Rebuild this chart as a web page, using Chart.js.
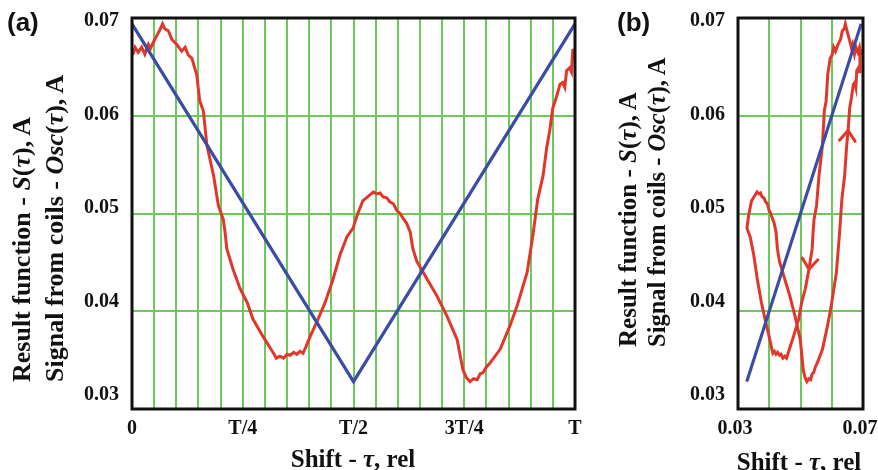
<!DOCTYPE html>
<html>
<head>
<meta charset="utf-8">
<script src="https://cdn.jsdelivr.net/npm/chart.js@4.4.1/dist/chart.umd.min.js"></script>
<style>
  html, body { margin: 0; padding: 0; background: #fff; }
  #wrap { position: relative; width: 878px; height: 470px; overflow: hidden; }
  .panel { position: absolute; top: 0; height: 470px; }
  .txt { position: absolute; white-space: nowrap; color: #111; font-family: 'Liberation Serif', 'Times New Roman', serif; font-weight: bold; }
  .tag { font-family: 'Liberation Sans', Arial, sans-serif; font-size: 26px; line-height: 1; }
  .ytitle { transform-origin: 0 0; transform: rotate(-90deg); line-height: 26px; }
  .xtitle { line-height: 25px; transform: translateX(-50%); }
</style>
</head>
<body>
<div id="wrap">
  <div class="panel" style="left:0;width:590px;"><canvas id="chartA"></canvas></div>
  <div class="panel" style="left:590px;width:288px;"><canvas id="chartB"></canvas></div>

  <div class="txt tag" style="left:7px;top:9px;">(a)</div>
  <div class="txt tag" style="left:617px;top:9px;">(b)</div>

  <div class="txt ytitle" style="left:9px;top:382px;font-size:26px;">Result function - <i>S</i>(<i>τ</i>), A</div>
  <div class="txt ytitle" style="left:42px;top:382px;font-size:26px;">Signal from coils - <i>Osc</i>(<i>τ</i>), A</div>
  <div class="txt ytitle" style="left:615px;top:347px;font-size:25px;">Result function - <i>S</i>(<i>τ</i>), A</div>
  <div class="txt ytitle" style="left:644px;top:347px;font-size:24.5px;">Signal from coils - <i>Osc</i>(<i>τ</i>), A</div>

  <div class="txt xtitle" style="left:353px;top:446px;font-size:25px;">Shift - <i>τ</i>, rel</div>
  <div class="txt xtitle" style="left:799px;top:449px;font-size:25px;">Shift - <i>τ</i>, rel</div>
</div>

<script>
// shift τ as a fraction of the period T, and the coil signal Osc(τ), A
const shift = [
  0.000, 0.003, 0.007, 0.014, 0.022, 0.029, 0.037, 0.042, 0.048, 0.056,
  0.063, 0.069, 0.074, 0.082, 0.090, 0.101, 0.112, 0.120, 0.127, 0.135,
  0.146, 0.153, 0.161, 0.169, 0.184, 0.195, 0.206, 0.210, 0.214, 0.228,
  0.244, 0.260, 0.273, 0.296, 0.318, 0.326, 0.334, 0.342, 0.350, 0.357,
  0.365, 0.372, 0.379, 0.386, 0.392, 0.402, 0.420, 0.436, 0.454, 0.469,
  0.485, 0.499, 0.508, 0.521, 0.537, 0.545, 0.553, 0.560, 0.567, 0.575,
  0.582, 0.590, 0.598, 0.605, 0.612, 0.620, 0.628, 0.634, 0.643, 0.666,
  0.688, 0.711, 0.734, 0.747, 0.755, 0.763, 0.771, 0.779, 0.786, 0.792,
  0.800, 0.808, 0.831, 0.853, 0.869, 0.892, 0.905, 0.916, 0.928, 0.936,
  0.943, 0.950, 0.958, 0.966, 0.972, 0.977, 0.981, 0.988, 0.992, 0.995,
  1.000
];
const oscSignal = [
  0.0662, 0.0664, 0.0670, 0.0665, 0.0670, 0.0663, 0.0673, 0.0669, 0.0675, 0.0682,
  0.0688, 0.0694, 0.0689, 0.0687, 0.0678, 0.0673, 0.0666, 0.0670, 0.0662, 0.0659,
  0.0642, 0.0615, 0.0605, 0.0570, 0.0539, 0.0508, 0.0494, 0.0481, 0.0464, 0.0443,
  0.0423, 0.0409, 0.0392, 0.0374, 0.0358, 0.0352, 0.0354, 0.0352, 0.0356, 0.0355,
  0.0358, 0.0356, 0.0359, 0.0357, 0.0363, 0.0374, 0.0392, 0.0409, 0.0433, 0.0457,
  0.0476, 0.0485, 0.0498, 0.0513, 0.0519, 0.0522, 0.0520, 0.0521, 0.0517, 0.0516,
  0.0512, 0.0510, 0.0503, 0.0500, 0.0495, 0.0490, 0.0481, 0.0464, 0.0451, 0.0433,
  0.0416, 0.0395, 0.0371, 0.0340, 0.0332, 0.0328, 0.0331, 0.0330, 0.0336, 0.0337,
  0.0343, 0.0347, 0.0361, 0.0385, 0.0405, 0.0440, 0.0478, 0.0515, 0.0539, 0.0567,
  0.0585, 0.0608, 0.0619, 0.0632, 0.0634, 0.0629, 0.0646, 0.0649, 0.0645, 0.0667,
  0.0668
];

// result function S(τ): a V between these shifts
const resultShift = [0, 0.5, 1];
const resultValue = [0.0694, 0.0328, 0.0694];

// axis ticks
const shiftTicks = [0, 0.25, 0.5, 0.75, 1];
const shiftTickLabels = ['0', 'T/4', 'T/2', '3T/4', 'T'];
const signalTicks = [0.03, 0.04, 0.05, 0.06, 0.07];
const loopTickLabels = ['0.03', '0.07'];

// shifts where the direction arrows sit on the loop of panel (b)
const arrowShift = [0.235, 0.943];

const RED = '#e1372a';
const BLUE = '#3a4ca6';
const GREEN = '#6cc95c';
const INK = '#111';
const tickFont = { family: 'Liberation Serif', weight: 'bold', size: 20 };

// S(τ) at any shift, read along the V segments
function resultAt(t) {
  for (let i = 1; i < resultShift.length; i++) {
    if (t <= resultShift[i]) {
      const f = (t - resultShift[i - 1]) / (resultShift[i] - resultShift[i - 1]);
      return resultValue[i - 1] + f * (resultValue[i] - resultValue[i - 1]);
    }
  }
  return resultValue[resultValue.length - 1];
}

// black frame around the plot area
const frame = {
  id: 'frame',
  afterDatasetsDraw(chart) {
    const a = chart.chartArea;
    const ctx = chart.ctx;
    ctx.save();
    ctx.strokeStyle = INK;
    ctx.lineWidth = 3;
    ctx.strokeRect(a.left, a.top, a.right - a.left, a.bottom - a.top);
    ctx.restore();
  }
};

// chevrons along the red loop showing which way τ runs
const arrows = {
  id: 'arrows',
  afterDatasetsDraw(chart) {
    const meta = chart.getDatasetMeta(1);
    const ctx = chart.ctx;
    ctx.save();
    ctx.strokeStyle = RED;
    ctx.lineWidth = 3;
    ctx.lineCap = 'round';
    arrowShift.forEach((t) => {
      let k = 0;
      shift.forEach((s, i) => { if (Math.abs(s - t) < Math.abs(shift[k] - t)) k = i; });
      const p = meta.data[k];
      const back = meta.data[Math.max(k - 2, 0)];
      const ang = Math.atan2(p.y - back.y, p.x - back.x);
      const len = 13;
      ctx.beginPath();
      ctx.moveTo(p.x + len * Math.cos(ang + Math.PI - 0.65), p.y + len * Math.sin(ang + Math.PI - 0.65));
      ctx.lineTo(p.x, p.y);
      ctx.lineTo(p.x + len * Math.cos(ang + Math.PI + 0.65), p.y + len * Math.sin(ang + Math.PI + 0.65));
      ctx.stroke();
    });
    ctx.restore();
  }
};

// value axis: carries the data and the green grid, no labels
const signalAxis = {
  type: 'linear',
  position: 'left',
  min: 0.03,
  max: 0.07,
  afterBuildTicks: (scale) => { scale.ticks = signalTicks.map((v) => ({ value: v })); },
  afterFit: (scale) => { scale.width = 0; },
  ticks: { display: false },
  grid: { color: GREEN, lineWidth: 2, drawTicks: false },
  border: { display: false },
};

// label axis: the printed values sit a little inside the frame ends
function signalLabelAxis(width) {
  return {
    type: 'linear',
    position: 'left',
    min: 0.0285,
    max: 0.07032,
    afterBuildTicks: (scale) => { scale.ticks = signalTicks.map((v) => ({ value: v })); },
    afterFit: (scale) => { scale.width = width; },
    ticks: { callback: (v) => v.toFixed(2), font: tickFont, color: INK, padding: 5 },
    grid: { display: false },
    border: { display: false },
  };
}

const layout = { padding: { top: 18, right: 15, left: 0, bottom: 0 } };

// panel (a): both signals against the shift
const gridTau = [];
for (let i = 0; i <= 20; i++) gridTau.push(i / 20);

new Chart(document.getElementById('chartA'), {
  type: 'line',
  data: {
    datasets: [
      {
        label: 'S',
        data: resultShift.map((t, i) => ({ x: t, y: resultValue[i] })),
        yAxisID: 'y',
        borderColor: BLUE,
        borderWidth: 3.2,
        pointRadius: 0,
      },
      {
        label: 'Osc',
        data: shift.map((t, i) => ({ x: t, y: oscSignal[i] })),
        yAxisID: 'y',
        borderColor: RED,
        borderWidth: 3,
        pointRadius: 0,
      },
    ],
  },
  options: {
    responsive: true,
    maintainAspectRatio: false,
    animation: false,
    layout,
    plugins: { legend: { display: false }, tooltip: { enabled: false } },
    scales: {
      x: {
        type: 'linear',
        min: 0,
        max: 1,
        afterBuildTicks: (scale) => { scale.ticks = gridTau.map((v) => ({ value: v })); },
        afterFit: (scale) => { scale.height = 61; },
        ticks: {
          autoSkip: false,
          maxRotation: 0,
          callback: (v) => {
            const k = shiftTicks.findIndex((t) => Math.abs(t - v) < 1e-6);
            return k >= 0 ? shiftTickLabels[k] : '';
          },
          font: tickFont,
          color: INK,
          padding: 8,
        },
        grid: { color: GREEN, lineWidth: 2, drawTicks: false },
        border: { display: false },
      },
      y: signalAxis,
      yl: signalLabelAxis(132),
    },
  },
  plugins: [frame],
});

// panel (b): coil signal against the result function, same shifts
new Chart(document.getElementById('chartB'), {
  type: 'line',
  data: {
    datasets: [
      {
        label: 'S',
        data: [{ x: resultValue[1], y: resultValue[1] }, { x: resultValue[0], y: resultValue[0] }],
        yAxisID: 'y',
        borderColor: BLUE,
        borderWidth: 3.2,
        pointRadius: 0,
      },
      {
        label: 'Osc',
        data: shift.map((t, i) => ({ x: resultAt(t), y: oscSignal[i] })),
        yAxisID: 'y',
        borderColor: RED,
        borderWidth: 3,
        pointRadius: 0,
      },
    ],
  },
  options: {
    responsive: true,
    maintainAspectRatio: false,
    animation: false,
    layout,
    plugins: { legend: { display: false }, tooltip: { enabled: false } },
    scales: {
      x: {
        type: 'linear',
        min: 0.03,
        max: 0.07,
        afterBuildTicks: (scale) => { scale.ticks = signalTicks.map((v) => ({ value: v })); },
        // the last label may run into the right margin
        afterFit: (scale) => { scale.height = 61; scale.paddingRight = 0; },
        ticks: {
          autoSkip: false,
          maxRotation: 0,
          labelOffset: -3,
          callback: (v) => {
            const s = v.toFixed(2);
            return loopTickLabels.includes(s) ? s : '';
          },
          font: tickFont,
          color: INK,
          padding: 8,
        },
        grid: { color: GREEN, lineWidth: 2, drawTicks: false },
        border: { display: false },
      },
      y: signalAxis,
      yl: signalLabelAxis(148),
    },
  },
  plugins: [frame, arrows],
});
</script>
</body>
</html>
